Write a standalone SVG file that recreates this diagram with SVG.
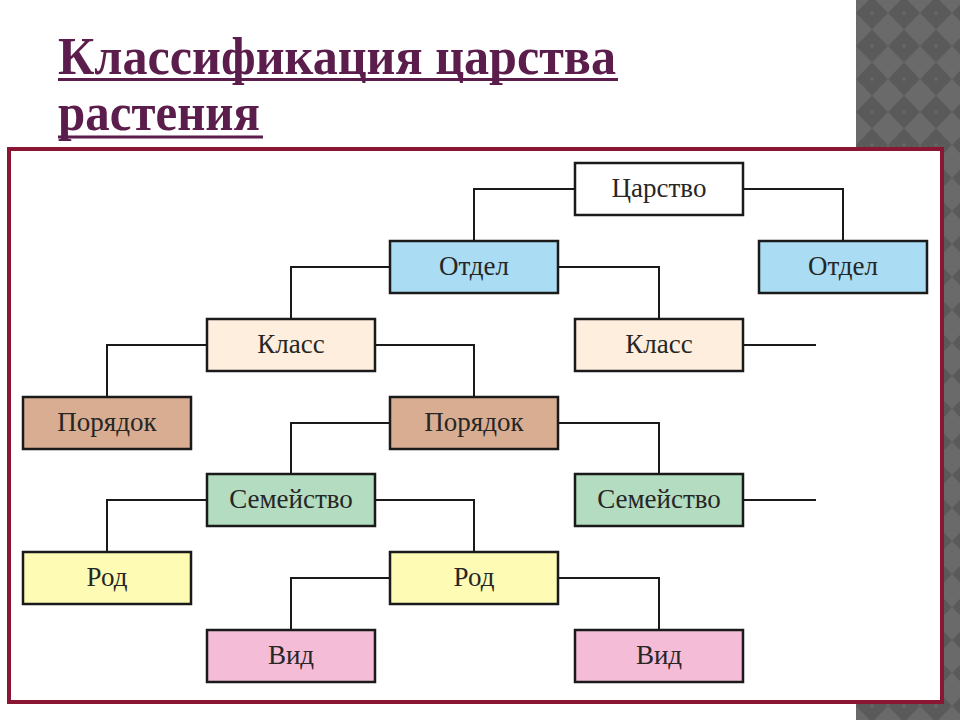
<svg xmlns="http://www.w3.org/2000/svg" width="960" height="720" viewBox="0 0 960 720">
<defs>
<pattern id="diam" patternUnits="userSpaceOnUse" x="856" y="-3.5" width="32" height="33">
<rect width="32" height="33" fill="#6a6a6a"/>
<polygon points="16,0 32,16.5 16,33 0,16.5" fill="#5a5a5a"/>
<path d="M16 14.5 V18.5 M14 16.5 H18" stroke="#6c6c6c" stroke-width="1"/>
</pattern>
<style>
.title{font-family:"Liberation Serif","Times New Roman",serif;font-weight:bold;font-size:53px;fill:#5b1d4b}
.box{stroke:#1a1a1a;stroke-width:2.5}
.lbl{font-family:"Liberation Serif","Times New Roman",serif;font-size:27px;fill:#262626;text-anchor:middle}
.con{fill:none;stroke:#1a1a1a;stroke-width:2}
.otdel{fill:#aadcf3}
.klass{fill:#fdeedd}
.por{fill:#d8ad92}
.sem{fill:#b3dcc0}
.rod{fill:#fdfbb4}
.vid{fill:#f5bcd8}
</style>
</defs>
<rect width="960" height="720" fill="#ffffff"/>
<rect x="856" y="0" width="104" height="720" fill="url(#diam)"/>
<g id="title">
<text class="title" x="58" y="74" textLength="558" lengthAdjust="spacingAndGlyphs">Классификация царства</text>
<line x1="58" y1="79.5" x2="618" y2="79.5" stroke="#5b1d4b" stroke-width="3"/>
<text class="title" x="58" y="130" textLength="202" lengthAdjust="spacingAndGlyphs">растения</text>
<line x1="58" y1="137" x2="263" y2="137" stroke="#5b1d4b" stroke-width="3"/>
</g>
<rect id="frame" x="9" y="149" width="933" height="553" fill="#ffffff" stroke="#8a1634" stroke-width="4"/>
<g id="connectors">
<path class="con" d="M575 189 H474 V241"/>
<path class="con" d="M743 189 H843 V241"/>
<path class="con" d="M390 267 H291 V319"/>
<path class="con" d="M558 267 H659 V319"/>
<path class="con" d="M207 345 H107 V397"/>
<path class="con" d="M375 345 H474 V397"/>
<path class="con" d="M743 345 H816"/>
<path class="con" d="M390 423 H291 V474"/>
<path class="con" d="M558 423 H659 V474"/>
<path class="con" d="M207 500 H107 V552"/>
<path class="con" d="M375 500 H474 V552"/>
<path class="con" d="M743 500 H816"/>
<path class="con" d="M390 578 H291 V630"/>
<path class="con" d="M558 578 H659 V630"/>
</g>
<g id="tsarstvo"><rect class="box" x="575" y="163" width="168" height="52" fill="#ffffff"/><text class="lbl" x="659" y="197">Царство</text></g>
<g id="otdel1"><rect class="box otdel" x="390" y="241" width="168" height="52"/><text class="lbl" x="474" y="275">Отдел</text></g>
<g id="otdel2"><rect class="box otdel" x="759" y="241" width="168" height="52"/><text class="lbl" x="843" y="275">Отдел</text></g>
<g id="klass1"><rect class="box klass" x="207" y="319" width="168" height="52"/><text class="lbl" x="291" y="353">Класс</text></g>
<g id="klass2"><rect class="box klass" x="575" y="319" width="168" height="52"/><text class="lbl" x="659" y="353">Класс</text></g>
<g id="poryadok1"><rect class="box por" x="23" y="397" width="168" height="52"/><text class="lbl" x="107" y="431">Порядок</text></g>
<g id="poryadok2"><rect class="box por" x="390" y="397" width="168" height="52"/><text class="lbl" x="474" y="431">Порядок</text></g>
<g id="semeystvo1"><rect class="box sem" x="207" y="474" width="168" height="52"/><text class="lbl" x="291" y="508">Семейство</text></g>
<g id="semeystvo2"><rect class="box sem" x="575" y="474" width="168" height="52"/><text class="lbl" x="659" y="508">Семейство</text></g>
<g id="rod1"><rect class="box rod" x="23" y="552" width="168" height="52"/><text class="lbl" x="107" y="586">Род</text></g>
<g id="rod2"><rect class="box rod" x="390" y="552" width="168" height="52"/><text class="lbl" x="474" y="586">Род</text></g>
<g id="vid1"><rect class="box vid" x="207" y="630" width="168" height="52"/><text class="lbl" x="291" y="664">Вид</text></g>
<g id="vid2"><rect class="box vid" x="575" y="630" width="168" height="52"/><text class="lbl" x="659" y="664">Вид</text></g>
</svg>
